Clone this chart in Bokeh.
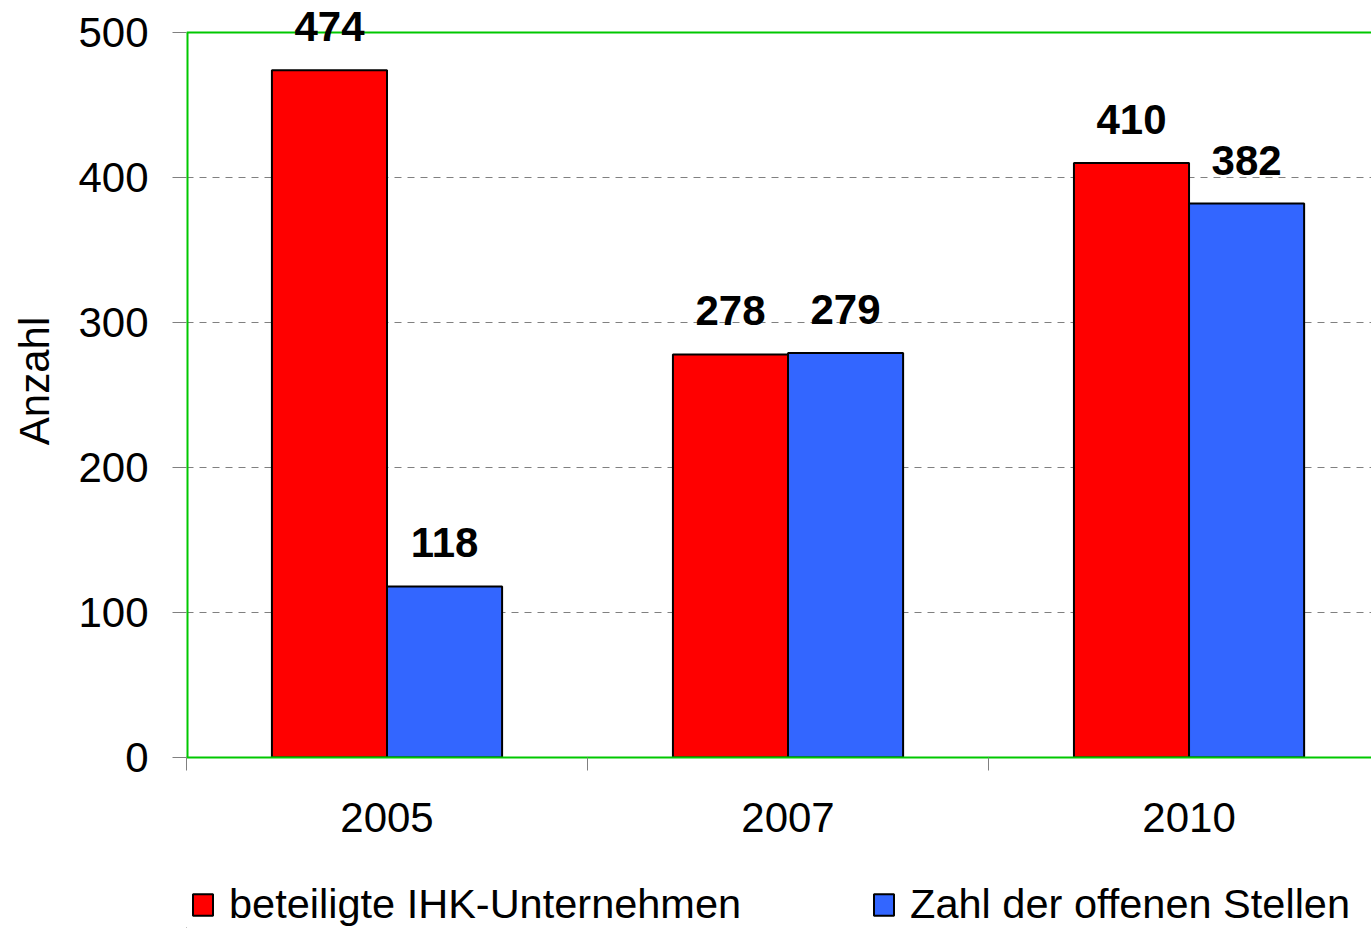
from bokeh.plotting import figure
from bokeh.layouts import column
from bokeh.models import (ColumnDataSource, FixedTicker, LabelSet, Legend,
                          LegendItem, Range1d, Span)
from bokeh.embed import file_html
from bokeh.resources import INLINE
from bokeh.core.properties import value

# ---- data ----
years = ["2005", "2007", "2010"]
unternehmen = [474, 278, 410]
stellen = [118, 279, 382]
series_names = ["beteiligte IHK-Unternehmen", "Zahl der offenen Stellen"]
y_ticks = [0, 100, 200, 300, 400, 500]

FONT = "Liberation Sans"
RED = "#FF0000"
BLUE = "#3366FF"
GREEN = "#00C800"
GREY = "#808080"

BAR_W = 0.287
OFF = 0.1435
Y_MAX = 500
Y_TOP = 519.3   # room above the top line for the value labels

centers = [i + 0.5 for i in range(len(years))]
src = ColumnDataSource(dict(
    xr=[c - OFF for c in centers],
    xb=[c + OFF for c in centers],
    u=unternehmen,
    s=stellen,
    ul=[str(v) for v in unternehmen],
    sl=[str(v) for v in stellen],
))

p = figure(width=1371, height=848, output_backend="svg", toolbar_location=None,
           x_range=Range1d(0, 2.955), y_range=Range1d(0, Y_TOP),
           min_border_left=186, min_border_right=0, min_border_top=4,
           min_border_bottom=91)
p.outline_line_color = None
p.background_fill_color = "white"
p.border_fill_color = "white"

bar_style = dict(line_color="black", line_width=2)
r1 = p.vbar(x="xr", top="u", width=BAR_W, fill_color=RED, source=src, **bar_style)
r2 = p.vbar(x="xb", top="s", width=BAR_W, fill_color=BLUE, source=src, **bar_style)

# chart-area border: top line and left line (stop at 500)
p.add_layout(Span(location=Y_MAX, dimension="width", line_color=GREEN, line_width=2))
p.segment(x0=[0], y0=[0], x1=[0], y1=[Y_MAX], line_color=GREEN, line_width=4)

# value labels
for xcol, tcol, ycol in (("xr", "ul", "u"), ("xb", "sl", "s")):
    p.add_layout(LabelSet(x=xcol, y=ycol, text=tcol, source=src,
                          text_font=value(FONT), text_font_style="bold",
                          text_font_size="42px", text_color="black",
                          text_align="center", text_baseline="alphabetic",
                          y_offset=29, level="overlay"))

# x axis
xa = p.xaxis[0]
xa.ticker = FixedTicker(ticks=centers, minor_ticks=list(range(len(years) + 1)))
xa.major_label_overrides = {c: y for c, y in zip(centers, years)}
xa.major_tick_out = 0
xa.major_tick_in = 0
xa.minor_tick_out = 13
xa.minor_tick_in = 0
xa.minor_tick_line_color = GREY
xa.axis_line_color = GREEN
xa.axis_line_width = 2
xa.major_label_text_font = FONT
xa.major_label_text_font_size = "42px"
xa.major_label_text_color = "black"
xa.major_label_standoff = 32

# y axis
ya = p.yaxis[0]
ya.ticker = FixedTicker(ticks=y_ticks)
ya.major_tick_out = 14
ya.major_tick_in = 0
ya.minor_tick_out = 0
ya.minor_tick_in = 0
ya.major_tick_line_color = GREY
ya.axis_line_color = None
ya.major_label_text_font = FONT
ya.major_label_text_font_size = "42px"
ya.major_label_text_color = "black"
ya.major_label_standoff = 24
ya.axis_label = "Anzahl"
ya.axis_label_text_font = FONT
ya.axis_label_text_font_size = "42px"
ya.axis_label_text_font_style = "normal"
ya.axis_label_text_color = "black"
ya.axis_label_standoff = 17

p.xgrid.visible = False
p.ygrid.grid_line_color = GREY
p.ygrid.grid_line_dash = "7 6"
p.ygrid.grid_line_width = 1
p.ygrid.ticker = FixedTicker(ticks=y_ticks[1:-1])

# ---- legend strip below the chart ----
lg = figure(width=1371, height=80, output_backend="svg", toolbar_location=None,
            x_axis_type=None, y_axis_type=None, x_range=(0, 1), y_range=(0, 1),
            min_border_left=0, min_border_right=0, min_border_top=0,
            min_border_bottom=0)
lg.outline_line_color = None
lg.grid.visible = False
# off-screen single bars so that the legend has glyphs to draw
lr1 = lg.vbar(x=[-10], top=[0], width=BAR_W, fill_color=RED, **bar_style)
lr2 = lg.vbar(x=[-10], top=[0], width=BAR_W, fill_color=BLUE, **bar_style)

legend = Legend(items=[LegendItem(label=series_names[0], renderers=[lr1]),
                       LegendItem(label=series_names[1], renderers=[lr2])],
                location=(4, 0), orientation="horizontal")
legend.spacing = 130
legend.label_standoff = 14
legend.glyph_width = 25
legend.glyph_height = 27
legend.padding = 0
legend.margin = 0
legend.border_line_alpha = 0
legend.background_fill_alpha = 0
legend.label_text_font = FONT
legend.label_text_font_size = "41.5px"
legend.label_text_color = "black"
lg.add_layout(legend)

layout = column(p, lg, spacing=0)
open("out.html", "w").write(file_html(layout, INLINE))
